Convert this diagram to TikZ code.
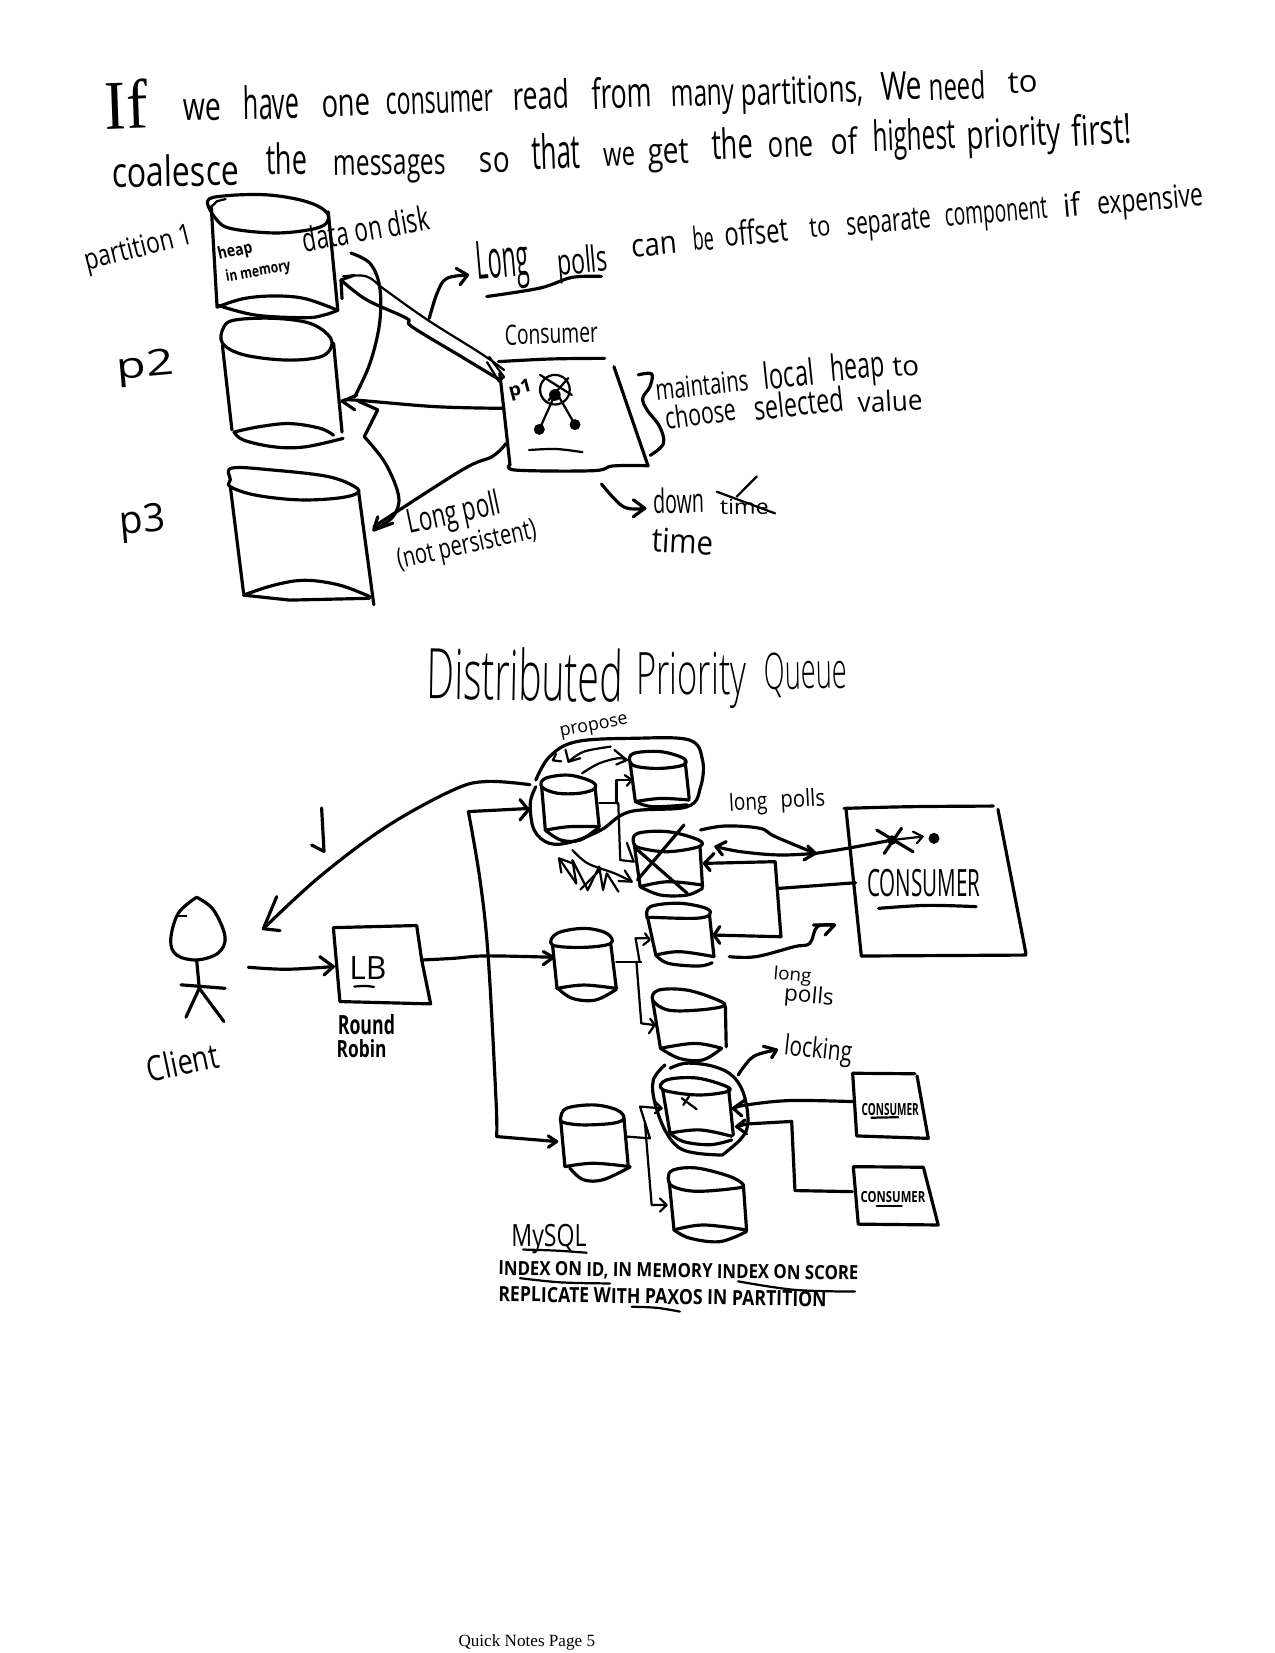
\documentclass[tikz,border=0pt]{standalone}
\usepackage{fontspec}
\setmainfont{Open Sans}
\newfontfamily\lightf{Open Sans Light}
\newfontfamily\footfont{Liberation Serif}
\newdimen\ux \ux=0.5mm
\tikzset{
  ink/.style={line width=1.5mm,line cap=round,line join=round,black},
  fine/.style={line width=1.05mm},
  txt/.style={inner sep=0pt,outer sep=0pt,anchor=base west,text=black}
}
\newcommand\inkc[2][]{\draw[ink,#1] plot[smooth,tension=.6] coordinates {#2};}
\newcommand\inko[2][]{\draw[ink,#1] plot[smooth cycle,tension=.6] coordinates {#2};}
\newcommand\inkl[2][]{\draw[ink,#1] plot[sharp plot] coordinates {#2};}
\newcommand\hw[7]{\node[txt,rotate=#4] (#1) at (#2,#3) {\resizebox{#5\ux}{#6\ux}{\vphantom{d}#7}};}
\newcommand\hl[7]{\hw{#1}{#2}{#3}{#4}{#5}{#6}{\lightf #7}}
\begin{document}
\begin{tikzpicture}[x=0.5mm,y=-0.5mm]
\useasboundingbox (0,0) rectangle (1204,1561);
\fill[white] (0,0) rectangle (1204,1561);
% heading
\hw{tIf}{100}{122}{2}{40}{50}{\footfont If}
\hw{aA}{173.5}{114}{1}{36}{28}{we}
\hw{aB}{230}{113}{1}{53}{32}{have}
\hw{aC}{304.5}{110.5}{2}{46}{28}{one}
\hw{aD}{364.7}{108.5}{2}{102}{28}{consumer}
\hw{aE}{485}{104}{2}{53}{28}{read}
\hw{aF}{559.4}{103}{2}{57}{30}{from}
\hw{aG}{634}{101}{2}{60}{27}{many}
\hw{aH}{700}{100}{2}{116}{27}{partitions,}
\hw{aI}{832}{95}{2}{39}{28}{We}
\hw{aJ}{878}{95}{2}{53}{27}{need}
\hw{aK}{952}{88}{2}{28}{22}{to}
\hw{bA}{106}{177}{1}{120}{30}{coalesce}
\hw{bB}{251.4}{165}{1}{39}{30}{the}
\hw{bC}{315}{166}{1}{106}{26}{messages}
\hw{bD}{453}{163}{1}{28.5}{26}{so}
\hw{bE}{502.7}{160}{2}{46}{34}{that}
\hw{bF}{570}{157}{2}{30}{24}{we}
\hw{bG}{612}{155}{2}{39}{26}{get}
\hw{bH}{672.7}{151}{2}{39}{30}{the}
\hw{bI}{726}{149}{2}{43}{26}{one}
\hw{bJ}{785}{146}{2}{25}{26}{of}
\hw{bK}{825}{143}{2}{78}{30}{highest}
\hw{bL}{913.4}{141}{3}{89}{28}{priority}
\hw{bM}{1012.5}{138}{3}{57}{30}{first!}
\hw{tLongA}{451}{264}{5}{50}{38}{Long}
\hw{tLongB}{527}{260}{5}{48}{26}{polls}
\hw{cA}{597}{243}{5}{43}{23}{can}
\hw{cB}{655}{237}{5}{20}{23}{be}
\hw{cC}{685}{233}{5}{60}{24}{offset}
\hw{cD}{765}{224}{5}{20}{20}{to}
\hw{cE}{800}{222}{5}{80}{23}{separate}
\hw{cF}{893}{214}{5}{97}{23}{component}
\hw{cG}{1005}{205}{5}{16}{23}{if}
\hw{cH}{1037}{203}{5}{100}{23}{expensive}
% partition 1
\inko{(196,190)(212,185)(252,184)(288,190)(308,200)(308,211)(292,217)(259,220)(219,216)(205,208)}
\inkl[fine]{(199,196)(205,190)(213,188)}
\inkl{(199.5,195)(205,290)}
\inkl{(310,200)(319,293)}
\inkc{(205,290)(230,282)(259,279.5)(288,282)(319,293)}
\inkc{(205,288)(241,297.5)(288,300)(306,297.5)(319,293)}
% p2
\inko{(210,324)(211.5,308.5)(223,302)(259,300.6)(291.6,305)(309.7,316)(313,327)(302.4,337)(270,340)(230,335)}
\inkl{(210,326)(219,406)}
\inkl{(315,324)(323,408)}
\inkc{(221,408)(244.6,403)(273.5,400)(302.4,404.5)(315,411)}
\inkc{(221,408)(230,415.6)(259,422)(288,422)(324,414)}
% p3
\inko{(217.5,453)(219,442)(259,444)(309.7,450)(335,459.6)(337,466)(317,470.6)(280.8,472)(241,467.5)(217.5,459.6)}
\inkl{(217.5,459.6)(230,560)}
\inkl{(338.6,464)(353,571)}
\inkc{(230,562)(259,552.5)(288,548)(320.5,552.5)(349.4,563.5)}
\inkl{(230,562)(273.5,566.7)(349,565)}
\hw{tPart}{82}{255}{14}{104}{21}{partition 1}
\hw{tP2}{111}{358}{5}{54}{26}{p2}
\hw{tP3}{114}{505}{5}{43}{28}{p3}
\hw{tHeap}{207}{245.5}{13}{33}{12}{\bfseries heap}
\hw{tMem}{214}{266}{10}{62}{11}{\bfseries in memory}
\hw{tDisk}{288}{238}{10}{121}{24}{data on disk}
\hw{tCons}{477}{326}{2}{88}{20}{Consumer}
\hw{tPoll}{387}{503.7}{12}{89}{24}{Long poll}
\hw{tNot}{377}{537}{12.6}{134}{20}{(not persistent)}
\hw{dA}{620}{378}{6}{88}{21}{maintains}
\hw{dB}{722}{368}{6}{48}{26}{local}
\hw{dC}{785}{360}{5}{51}{26}{heap}
\hw{dD}{843.6}{356}{5}{25}{20}{to}
\hw{eA}{629.6}{406}{8}{67}{22}{choose}
\hw{eB}{713}{397}{6}{85}{24}{selected}
\hw{eC}{810.6}{390}{3}{61}{20}{value}
\hw{tDown}{617}{485}{1}{48}{24}{down}
\hw{tTw}{680}{486}{1}{46}{15}{time}
\hw{tTime}{615}{521}{-3}{58}{24}{time}
% long poll connectors
\coordinate (cA) at (472.3,358.9);
\coordinate (cB) at (476,349.4);
\coordinate (cC) at (476,385.6);
\coordinate (cD) at (478,418.7);
\inkc{(cA)(436,337)(389,308.5)(384,300.6)(346,283)(322,264.4)}
\inkl{(322,264.4)(323,282)}
\inkl{(322,264.4)(334,260)}
\inkc[fine]{(cB)(454,333.7)(403.6,302)(364,274)(346,261)(324,261)}
\inkl[fine]{(462,337)(476,356)(471,360)(460,342)}
\inkc{(cC)(411,384)(335,377.8)(323.4,379)}
\inkl{(337,373)(323.4,379)(335,387)}
\inkc{(331.4,239)(349.4,248.7)(358.5,270.7)(358.5,305)(349.4,343)(335,374.6)}
\inkl{(338.6,379)(356.7,387)(344,412.4)}
\inkc{(344,412.4)(364,437.6)(376.5,469)(371,488)(353,500.5)}
\inkc{(cD)(465,431)(436,444)(353,497.4)}
\inkl{(356.7,488)(353,500.5)(371,494)}
\inkc{(405.4,300.6)(412.7,277)(421.7,263)(441.6,259.7)}
\inkl{(430.8,253.4)(441.6,259.7)(434.4,269)}
\inkc{(459.7,280)(510,272)(540,262)(568,261)}
% consumer (upper)
\inkc{(470.6,341.5)(520,339)(571,338.4)}
\inkl{(472,352.6)(481.6,439)}
\inkc{(481.6,439)(488,444)(560,444.5)(579,440)(612,439.8)}
\inkl{(579.8,346.3)(612,440)}
\draw[ink,fine] (524,368) circle (14);
\inkl[fine]{(510,354)(540,373)}
\inkl[fine]{(536.7,357)(518,378)}
\fill (524,373) circle (5.5);
\fill (509.3,405.5) circle (5.2);
\fill (543,401) circle (5.2);
\inkl[fine]{(524,373)(509.3,405.5)}
\inkl[fine]{(528,375)(543,401)}
\inkc[fine]{(499.6,425)(525,424)(550,427)}
\hw{tPOne}{482}{375}{15}{22}{13}{\bfseries p1}
\inkc{(602.8,354)(615.4,353)(613.8,365)(607,376)(611,387)(623,403)(626.4,419)(614,430)}
\inkc{(568,457)(588.7,478.5)(609,480)}
\inkl{(598,472)(609,480)(598,488)}
\inkl[fine]{(676.8,464.3)(731.9,484.8)}
\inkl[fine]{(714.6,450)(695.7,469)}
% title
\hl{qA}{403}{660}{-1}{185}{50}{Distributed}
\hl{qB}{601}{656}{0}{104}{42}{Priority}
\hl{qC}{722}{651}{1}{78}{36}{Queue}
% client
\inkc{(185.7,847.3)(201.4,859)(212.5,884.5)(206,900)(185.7,906.5)(166.8,901.8)(161.2,887.6)(168.4,862.4)(185.7,847.3)}
\inkl[fine]{(168,865)(176,865)}
\inkl{(185.7,906.5)(188.2,933.3)}
\inkl{(170.9,930)(212.5,933.3)}
\inkl{(188.2,933.3)(175.6,960.6)}
\inkl{(188.2,933.3)(211.5,964.7)}
\hw{tClient}{141.6}{1022}{12}{68}{25}{Client}
% return arrow and tick
\coordinate (hullAw) at (500.5,741);
\coordinate (clientHead) at (248.7,877);
\inkc{(hullAw)(459.6,738)(428,746)(365,780.6)(302,827.8)(clientHead)}
\inkl{(261.3,846.7)(clientHead)(264.4,878.8)}
\inkl{(303.7,763)(306,804)(294.3,798)}
% LB
\inkl{(314.8,876)(393.5,874)(398.2,906.5)(406.7,948)(321,945.8)(314.8,876)}
\hw{tLB}{330}{925}{0}{35}{23}{LB}
\inkc[fine]{(334.6,931.7)(344,931)(353.2,932)}
\hw{tRound}{319}{977}{0}{54}{19}{\bfseries Round}
\hw{tRobin}{318}{999}{0}{47}{17}{\bfseries Robin}
\coordinate (clientOut) at (234.5,913.4);
\coordinate (lbIn) at (314.8,912.8);
\inkc{(clientOut)(270.7,915.3)(lbIn)}
\inkl{(302,903.4)(lbIn)(306,920.7)}
\coordinate (lbOut) at (399.8,906.5);
\coordinate (cylCin) at (522.5,904);
\inkc{(lbOut)(428,905)(459.6,902.7)(cylCin)}
\inkl{(513,898.6)(cylCin)(513,911)}
% trunk
\coordinate (trunkT) at (442.3,766.4);
\coordinate (trunkB) at (469,1073.3);
\inkc{(trunkT)(453.3,831)(461,903.3)(468.4,1038.7)(trunkB)}
\inkl{(trunkT)(499,763.5)}
\inkl{(491,755)(499,764.8)(491,774.3)}
\inkl{(trunkB)(525.6,1078)}
\inkl{(517.8,1072.7)(525.6,1078)(517.8,1083.4)}
% cylinder A
\inko{(511.6,743)(515,735)(537,732)(558.6,738)(562,744.5)(548,749)(526,749)}
\inkl{(511.6,744)(515,784)}
\inkl{(562,744)(565.8,780.6)}
\inkc{(515,784)(537,780.7)(565.8,780.6)}
\inkc{(515,784)(529.7,793.3)(547.8,793.3)(565.8,781)}
% cylinder B
\inko{(594.8,719.3)(598.4,711.4)(623.7,709.8)(645.3,716)(645.3,722.4)(623.7,725.6)(602,724)}
\inkl{(595,720)(600,757)}
\inkl{(647,719)(650.8,754)}
\inkc{(600,757)(623.7,754)(650.8,755.5)}
\inkc{(600,757)(616.4,761.8)(649,760)}
% hull A+B
\inkc{(506,743)(500.8,758.6)(504.4,783.8)(518.9,796.4)(540,795)(567.6,783.8)(594.8,766.5)(649,761.8)(661.6,743)(663.4,717.7)(650.8,698.8)(598.4,697.2)(544.2,700.4)(518.9,714.6)(506,736.6)}
% A to B / D
\inkc[fine]{(549.6,730.3)(565.8,720.9)(583.9,716)(591.9,717.7)}
\inkl[fine]{(580.3,708.3)(591.9,717.7)(582,722)}
\inkc[fine]{(536.9,719.3)(551.4,709.8)(576.7,705.1)}
\inkl[fine]{(534,708)(536.9,719.3)(548,716)}
\inkl[fine]{(525,712)(522,718)(530,719)}
\inkl[fine]{(565.8,758.6)(583.9,758.6)}
\inkl[fine]{(582.1,758.6)(582.1,736.6)(596.6,736.6)}
\inkl[fine]{(590,732)(596.6,736.6)(592,742)}
\inkl[fine]{(583.9,758.6)(585.7,812.2)(598.4,813.7)}
\inkl[fine]{(592,796)(598.4,813.7)}
\inkc[fine]{(540.6,802.7)(555,815.3)(580.3,824.7)(596.6,832.6)}
\inkl[fine]{(584,832)(596.6,832.6)(590,822)}
% scribbled arrowheads
\inkl[fine]{(527.9,810.6)(544.2,834.2)(540.5,812.1)(555,840.5)(565.8,818.4)(569.5,840.5)(573,824.7)(584,842)}
\inkl[fine]{(527.9,810.6)(530,824)}
\inkl[fine]{(527.9,810.6)(540,815)}
\inkl[fine]{(548,840)(566,822)}
\hw{tPropose}{529.7}{695.7}{11}{65}{13}{propose}
% cylinder D
\inko{(598.4,796.4)(602,787)(630.9,785.4)(659.8,793.3)(659.8,799.6)(630.9,804.3)(605.6,801.1)}
\inkl{(599,798)(604.5,837.3)}
\inkl{(661,799)(663.4,837.3)}
\inkc{(604.5,837.3)(630.9,832.6)(663.4,835.8)}
\inkc{(604.5,837.3)(623.7,845.2)(649,845.2)(663.4,838.9)}
\inkl{(646,779)(602,831)}
\inkl{(600.2,801)(649,843.6)}
% cylinder H
\inko{(611,865.7)(614.6,856)(641.7,853)(667,857.8)(670,864)(656.2,867.2)(616.4,866.3)}
\inkl{(611.5,866)(619.3,901.9)}
\inkl{(670,864)(674.2,903.4)}
\inkc{(619.3,901.9)(641.7,898.7)(674.2,903.4)}
\inkc{(619.3,901.9)(630.9,909.7)(659.8,912.3)(672.5,909.1)}
% cylinder I
\inko{(521.8,892.4)(526,881.4)(551.4,876.7)(573,881.4)(576.7,890.9)(551.4,894.6)}
\inkl{(521.8,892.4)(526,933.4)}
\inkl{(576.7,890.9)(582,933.4)}
\inkc{(526,933.4)(551.4,930.2)(582,933.4)}
\inkc{(527,933.4)(540.5,942.8)(562.2,944.4)(582,934.3)}
% cylinder J
\inko{(616.4,944.4)(621.9,935)(649,935)(677.9,944.4)(683.3,950)(659.8,953.8)(630.9,953.8)}
\inkl{(616.4,945)(623.7,990)}
\inkl{(685,950)(685.8,988.5)}
\inkc{(623.7,990)(656.2,985.3)(681.5,990)}
\inkc{(623.7,990)(641.7,999.5)(663.4,1001)(681.5,990)}
% I to H, J
\inkc[fine]{(582,908.2)(605.6,908.2)}
\inkl[fine]{(604,908.2)(600.2,886)(612.8,886)}
\inkl[fine]{(609.2,881.4)(613.5,887.7)(607.4,892.4)}
\inkl[fine]{(601,908.2)(605.6,966.4)(618.2,968)}
\inkl[fine]{(614,962)(618.2,968)(612.8,975.8)}
% big consumer
\inkc{(797.1,763.4)(858.6,761.8)(938,761.2)}
\inkl{(942.4,764.3)(968.8,900.3)(968.8,901.9)(813.4,902.8)(799,765)}
\hw{tConsB}{819}{847}{0}{107}{27}{CONSUMER}
\inkc{(829.7,857.8)(875,855)(921.8,856.2)}
% long polls arrows (top)
\coordinate (dOut) at (661.6,783.8);
\coordinate (starL) at (770,805.9);
\inkc{(dOut)(685,780)(717.6,782.2)(732,790)(starL)}
\inkl{(762.8,799)(starL)(759.2,812)}
\inkc{(starL)(800.7,801)(842.3,793.3)}
\inkc{(starL)(735.7,807.4)(699.6,804.3)(676.1,799.6)}
\inkl{(685.8,794.8)(676.1,799.6)(682.2,807.4)}
\inkl{(827.9,783.8)(862.2,804.3)}
\inkl{(851.3,782.2)(835,805.9)}
\fill (842.3,793.3) circle (4.5);
\inkl[fine]{(842.3,793.3)(871.2,790)}
\inkl[fine]{(862.2,785.4)(871.2,790)(865.8,796.4)}
\fill (882,791.7) circle (5.2);
\hw{tLPa}{689}{766}{3}{36}{17}{long}
\hw{tLPb}{737.5}{763}{3}{42}{17}{polls}
% consumer bus
\coordinate (busC) at (808,833.6);
\coordinate (busJ) at (735.7,838.9);
\coordinate (dIn) at (665.2,815.3);
\coordinate (hIn) at (674.3,883);
\inkl{(busC)(busJ)}
\inkl{(dIn)(732,813.7)(737.5,884.6)(hIn)}
\inkl{(674.3,805.9)(dIn)(670.6,822.2)}
\inkl{(679.7,875)(hIn)(679.7,890.9)}
\inkc{(688.7,903.4)(714,903.4)(750,894)(764.6,890.9)(771.8,875)(788.1,873.5)}
\inkl{(768.2,873.5)(788.1,873.5)(779.1,883)}
\hw{tLong2}{730}{925}{-5}{36}{13}{long}
\hw{tPolls2}{740}{945}{-5}{47}{16}{polls}
% cylinder F with hull
\inko{(625.8,1029)(629.5,1019.8)(657.9,1018)(686.2,1026)(686.2,1031)(657.9,1034)}
\inkl{(625.8,1029)(632.7,1070)}
\inkl{(688,1027.7)(692.5,1071.8)}
\inkc{(632.7,1070)(661,1067)(691,1073)}
\inkc{(632.7,1070)(645.3,1078)(670.5,1081)(691,1076.5)}
\inkl[fine]{(643.7,1037)(657.9,1047.5)}
\inkl[fine]{(651.6,1034)(645.3,1043.4)}
\inkc{(632.7,1008.8)(648.4,1004)(673.6,1007)(692.5,1016.7)(703.5,1037)(705,1067)(686.2,1087.5)(676.8,1090.6)(645.3,1086)(629.5,1070)(618.5,1041.9)(617,1019.8)(628,1005.6)}
\coordinate (lockS) at (697.2,1015);
\coordinate (lockT) at (733.4,991.5);
\inkc{(lockS)(711.4,997.8)(lockT)}
\inkl{(720.8,988)(lockT)(728.7,999)}
\hw{tLock}{740}{996}{-6}{64}{20}{locking}
% E
\inko{(529.4,1056)(535,1046.6)(560.3,1043.4)(582.3,1048)(589.2,1056)(579,1060.7)(550.8,1062.3)(532,1060)}
\inkl{(529.4,1057)(533.5,1101.7)}
\inkl{(589.2,1056)(593.3,1101.7)}
\inkc{(533.5,1101.7)(560.3,1098.5)(595,1101.7)}
\inkc{(538,1103)(550.8,1114)(569.7,1114)(595,1102)}
% E to F, G
\coordinate (eOut) at (591.8,1073.3);
\coordinate (eJ) at (613.8,1075);
\coordinate (fIn) at (624.8,1046.6);
\coordinate (gIn) at (629.5,1138);
\inkl[fine]{(eOut)(eJ)(604.4,1045)(fIn)}
\inkl[fine]{(618.5,1040)(fIn)(618.5,1051.3)}
\inkl[fine]{(609,1060)(615.4,1138)(gIn)}
\inkl[fine]{(623.2,1131.6)(gIn)(623.2,1144.2)}
% G
\inko{(631,1112.7)(635.8,1104.8)(657.9,1103)(689.3,1111)(702,1119)(695.6,1122)(657.9,1125)(635.8,1120.6)}
\inkl{(632,1116)(636.5,1161.5)}
\inkl{(702,1119)(705,1161.5)}
\inkc{(636.5,1161.5)(664.2,1156.8)(705,1161.5)}
\inkc{(636.5,1161.5)(651.6,1169.3)(680,1172.5)(705,1163)}
% small consumers
\inkl{(805.2,1013.5)(864,1014)}
\inkl{(866,1016)(876.6,1075)(809,1072.7)(805.2,1013.5)}
\hw{tC1}{813.7}{1053}{0}{54}{12}{\bfseries CONSUMER}
\inkl[fine]{(823,1055.5)(848.3,1055)}
\inkl{(805.8,1101.7)(872,1102.3)(886,1156.8)(810.5,1156)(805.8,1101.7)}
\hw{tC2}{812.8}{1136}{0}{61}{11}{\bfseries CONSUMER}
\inkl[fine]{(827.9,1139)(851.5,1139)}
\coordinate (c1Out) at (805.8,1040.3);
\coordinate (c2Out) at (805,1125.3);
\coordinate (fA) at (692.5,1046.6);
\coordinate (fB) at (695.6,1063.9);
\inkc{(c1Out)(746,1039.3)(705,1043.4)(fA)}
\inkl{(703.5,1038.7)(fA)(700.4,1053.8)}
\inkl{(c2Out)(750.7,1124.3)(747.6,1059)(705,1061.4)(fB)}
\inkl{(703.5,1057.6)(fB)(705,1070.8)}
% notes
\hw{tMy}{483}{1177}{0}{71}{22}{MySQL}
\inkc[fine]{(494,1180)(525,1181)(554,1183)}
\hw{tIdx}{470.6}{1204}{-0.8}{340}{14}{\bfseries INDEX ON ID, IN MEMORY INDEX ON SCORE}
\inkc[fine]{(491,1207)(530,1211)(576,1212)}
\inkc[fine]{(697,1210)(750,1218)(807.4,1219.7)}
\hw{tRep}{470.6}{1229}{-0.9}{310}{15}{\bfseries REPLICATE WITH PAXOS IN PARTITION}
\inkc[fine]{(596.5,1234)(620,1235)(642,1238.6)}
% footer
\node[txt] (tFoot) at (433,1555) {\resizebox{129\ux}{!}{\footfont Quick Notes Page 5}};
\end{tikzpicture}
\end{document}
